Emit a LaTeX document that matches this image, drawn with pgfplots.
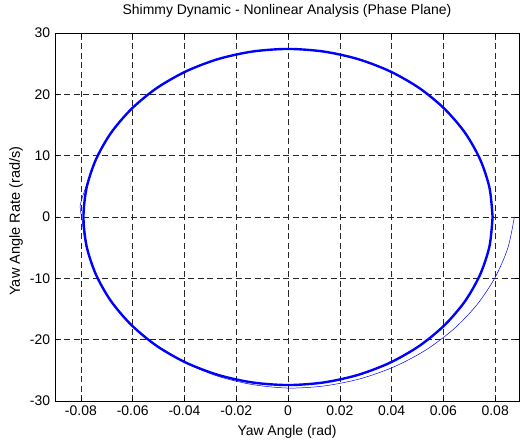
\documentclass[border=0pt]{standalone}
\usepackage{fontspec}
\setmainfont{Liberation Sans}
\usepackage{pgfplots}
\pgfplotsset{compat=1.18}

\begin{document}
\fontsize{14}{16.5}\selectfont
\begin{tikzpicture}
\begin{axis}[
    at={(0,0)}, anchor=south west,
    scale only axis,
    width=464bp, height=368bp,
    xmin=-0.09, xmax=0.0892,
    ymin=-30, ymax=30,
    xtick={-0.08,-0.06,-0.04,-0.02,0,0.02,0.04,0.06,0.08},
    ytick={-30,-20,-10,0,10,20,30},
    scaled x ticks=false,
    xticklabel style={/pgf/number format/fixed,/pgf/number format/precision=2},
    /pgf/number format/assume math mode=true,
    grid=major,
    major grid style={black!85, dash pattern=on 6bp off 3.5bp, line width=0.45pt},
    tick align=inside,
    major tick length=4bp,
    tick style={black, line width=0.5pt},
    axis line style={line width=0.8pt},
    title={Shimmy Dynamic - Nonlinear Analysis (Phase Plane)},
    title style={at={(axis description cs:0.5,1.0435)}, anchor=center},
    xlabel={Yaw Angle (rad)},
    xlabel style={at={(axis description cs:0.5,-0.0842)}, anchor=center},
    ylabel={Yaw Angle Rate (rad/s)},
    ylabel style={at={(axis description cs:-0.084,0.489)}, anchor=center, font=\fontsize{14.6}{17}\selectfont},
]
% limit cycle (many overlapping laps)
\addplot[blue, line width=2.4pt, smooth] coordinates {
    (0.0790,0) (0.0778,-4.76) (0.0742,-9.37) (0.0684,-13.70) (0.0605,-17.61)
    (0.0508,-20.99) (0.0395,-23.73) (0.0270,-25.75) (0.0137,-26.98) (0,-27.40)
    (-0.0137,-26.98) (-0.0270,-25.75) (-0.0395,-23.73) (-0.0508,-20.99) (-0.0605,-17.61)
    (-0.0684,-13.70) (-0.0742,-9.37) (-0.0778,-4.76) (-0.0790,0) (-0.0778,4.76)
    (-0.0742,9.37) (-0.0684,13.70) (-0.0605,17.61) (-0.0508,20.99) (-0.0395,23.73)
    (-0.0270,25.75) (-0.0137,26.98) (0,27.40) (0.0137,26.98) (0.0270,25.75)
    (0.0395,23.73) (0.0508,20.99) (0.0605,17.61) (0.0684,13.70) (0.0742,9.37)
    (0.0778,4.76) (0.0790,0)
};
% transient from the initial condition
\addplot[blue, line width=0.5pt, smooth] coordinates {
    (0.0874,0) (0.0849,-5.03) (0.0800,-9.83) (0.0730,-14.28) (0.0640,-18.26)
    (0.0533,-21.66) (0.0412,-24.38) (0.0280,-26.36) (0.0141,-27.54) (0,-27.89)
    (-0.0140,-27.30) (-0.0272,-25.95) (-0.0396,-23.78) (-0.0509,-21.03) (-0.0606,-17.64)
    (-0.0685,-13.72) (-0.0743,-9.38) (-0.0780,-4.77) (-0.0797,0) (-0.0803,1.8)
    (-0.0782,4.77) (-0.0743,9.38)
};
\end{axis}
\pgfresetboundingbox
\useasboundingbox (-55bp,-40bp) rectangle (465bp,401bp);
\end{tikzpicture}
\end{document}
